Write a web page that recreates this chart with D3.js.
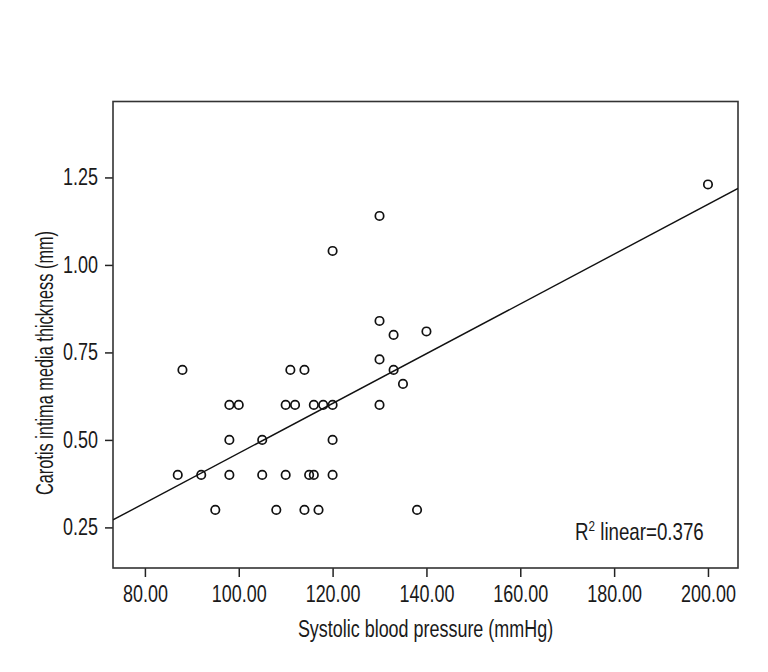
<!DOCTYPE html>
<html>
<head>
<meta charset="utf-8">
<script src="https://cdn.jsdelivr.net/npm/d3@7"></script>
<style>
  body { margin: 0; background: #fff; }
  text { font-family: "Liberation Sans", Arial, sans-serif; fill: #1a1a1a; }
</style>
</head>
<body>
<div id="scatter"></div>
<script>
// systolic blood pressure (mmHg) and carotis IMT (mm)
const SBP = [95, 108, 114, 117, 138,
             87, 92, 98, 105, 110, 115, 116, 120,
             98, 105, 120,
             98, 100, 110, 112, 116, 118, 120, 130,
             135,
             88, 111, 114, 133,
             130, 133, 140, 130, 120, 130, 200];
const IMT = [0.30, 0.30, 0.30, 0.30, 0.30,
             0.40, 0.40, 0.40, 0.40, 0.40, 0.40, 0.40, 0.40,
             0.50, 0.50, 0.50,
             0.60, 0.60, 0.60, 0.60, 0.60, 0.60, 0.60, 0.60,
             0.66,
             0.70, 0.70, 0.70, 0.70,
             0.73, 0.80, 0.81, 0.84, 1.04, 1.14, 1.23];
const X_TICKS = [80, 100, 120, 140, 160, 180, 200];
const Y_TICKS = [0.25, 0.50, 0.75, 1.00, 1.25];
const R2_LABEL = "0.376";
// fit line as drawn in the figure
const FIT_INTERCEPT = -0.249;
const FIT_SLOPE = 0.00711;

const WIDTH = 768;
const HEIGHT = 672;
const PLOT = {left: 113, right: 738, top: 101.5, bottom: 568};
const SQUEEZE = 0.78;   // the original uses a condensed face

const svg = d3.select("#scatter")
  .append("svg")
    .attr("width", WIDTH)
    .attr("height", HEIGHT);

// narrow the text horizontally to mimic the condensed font
function squeeze(sel, k) {
  k = k || SQUEEZE;
  sel.each(function() {
    const w = this.getComputedTextLength();
    d3.select(this).attr("textLength", w * k).attr("lengthAdjust", "spacingAndGlyphs");
  });
}

const xScale = d3.scaleLinear().domain([73.2, 206.4]).range([PLOT.left, PLOT.right]);
const yScale = d3.scaleLinear().domain([0.134, 1.467]).range([PLOT.bottom, PLOT.top]);

// axes (ticks only, frame drawn separately)
const xAxis = svg.append("g")
  .attr("transform", "translate(0," + PLOT.bottom + ")")
  .call(d3.axisBottom(xScale).tickValues(X_TICKS).tickFormat(d3.format(".2f")).tickSize(9).tickPadding(9));
const yAxis = svg.append("g")
  .attr("transform", "translate(" + PLOT.left + ",0)")
  .call(d3.axisLeft(yScale).tickValues(Y_TICKS).tickFormat(d3.format(".2f")).tickSize(8).tickPadding(7));

[xAxis, yAxis].forEach(a => {
  a.select(".domain").remove();
  a.selectAll("line").attr("stroke", "#222").attr("stroke-width", 1.5);
  a.selectAll("text").style("font-size", "23px").attr("fill", "#1a1a1a").call(squeeze);
});

// plot frame
svg.append("rect")
  .attr("x", PLOT.left)
  .attr("y", PLOT.top)
  .attr("width", PLOT.right - PLOT.left)
  .attr("height", PLOT.bottom - PLOT.top)
  .attr("fill", "none")
  .attr("stroke", "#333")
  .attr("stroke-width", 1.6);

svg.append("clipPath").attr("id", "clip")
  .append("rect")
    .attr("x", PLOT.left).attr("y", PLOT.top)
    .attr("width", PLOT.right - PLOT.left).attr("height", PLOT.bottom - PLOT.top);

const xd = xScale.domain();
svg.append("line")
  .attr("clip-path", "url(#clip)")
  .attr("x1", xScale(xd[0]))
  .attr("y1", yScale(FIT_INTERCEPT + FIT_SLOPE * xd[0]))
  .attr("x2", xScale(xd[1]))
  .attr("y2", yScale(FIT_INTERCEPT + FIT_SLOPE * xd[1]))
  .attr("stroke", "#111")
  .attr("stroke-width", 1.4);

// points
const data = SBP.map((x, i) => ({x: x, y: IMT[i]}));
svg.selectAll("circle.pt")
  .data(data)
  .enter()
  .append("circle")
    .attr("class", "pt")
    .attr("cx", d => xScale(d.x))
    .attr("cy", d => yScale(d.y))
    .attr("r", 4.2)
    .attr("fill", "none")
    .attr("stroke", "#111")
    .attr("stroke-width", 1.7);

// R squared label
const r2 = svg.append("g")
  .attr("transform", "translate(575,540) scale(" + SQUEEZE + ",1)")
  .append("text")
    .style("font-size", "24px");
r2.append("tspan").text("R");
r2.append("tspan").attr("dy", -9).style("font-size", "15px").text("2");
r2.append("tspan").attr("dy", 9).text(" linear=" + R2_LABEL);

// axis titles
svg.append("text")
  .attr("x", (PLOT.left + PLOT.right) / 2)
  .attr("y", 637)
  .attr("text-anchor", "middle")
  .style("font-size", "23px")
  .text("Systolic blood pressure (mmHg)")
  .call(squeeze);

svg.append("text")
  .attr("transform", "translate(53,363) rotate(-90)")
  .attr("text-anchor", "middle")
  .style("font-size", "23px")
  .text("Carotis intima media thickness (mm)")
  .call(squeeze, 0.71);
</script>
</body>
</html>
